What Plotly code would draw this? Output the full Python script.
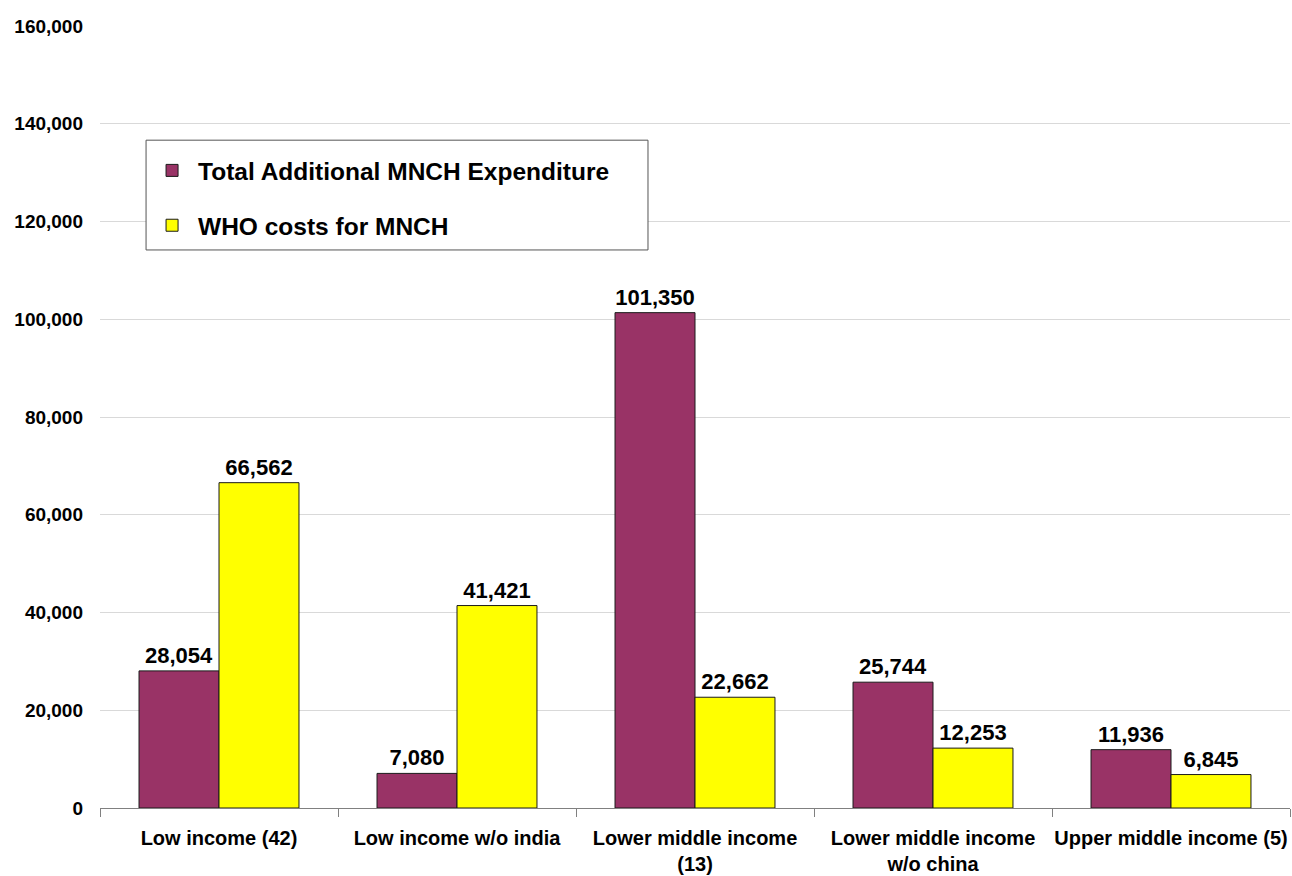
import plotly.graph_objects as go

categories = [
    "Low income (42)",
    "Low income w/o india",
    "Lower middle income<br>(13)",
    "Lower middle income<br>w/o china",
    "Upper middle income (5)",
]
total_additional = [28054, 7080, 101350, 25744, 11936]
who_costs = [66562, 41421, 22662, 12253, 6845]

FONT = "Arial, Liberation Sans, sans-serif"
label_font = dict(family=FONT, size=22, color="black", weight="bold")

fig = go.Figure()
fig.add_trace(go.Bar(
    x=categories, y=total_additional, name="Total Additional MNCH Expenditure",
    marker=dict(color="#993366", line=dict(color="#1a1a1a", width=1)),
    texttemplate="%{y:,}", textposition="outside", textfont=label_font,
    cliponaxis=False, legendgroup="a",
))
fig.add_trace(go.Bar(
    x=categories, y=who_costs, name="WHO costs for MNCH",
    marker=dict(color="#FFFF00", line=dict(color="#1a1a1a", width=1)),
    texttemplate="%{y:,}", textposition="outside", textfont=label_font,
    cliponaxis=False, legendgroup="b",
))

# framed white panel behind the legend entries
fig.add_shape(
    type="rect", xref="paper", yref="paper",
    x0=0.0387, x1=0.4605, y0=0.7136, y1=0.854,
    fillcolor="white", line=dict(color="#555555", width=1), layer="above",
)

fig.update_layout(
    width=1292, height=876,
    margin=dict(l=100, r=2, t=26, b=68, autoexpand=False),
    paper_bgcolor="white", plot_bgcolor="white",
    barmode="group", bargap=0.328, bargroupgap=0,
    font=dict(family=FONT, color="black"),
    showlegend=True,
    legend=dict(
        x=0.0387, y=0.854, xanchor="left", yanchor="top",
        bgcolor="rgba(0,0,0,0)", borderwidth=0,
        font=dict(family=FONT, size=24.5, color="black", weight="bold"),
        title=dict(text="&nbsp;", font=dict(size=6)),
        traceorder="grouped", tracegroupgap=20, itemwidth=42,
    ),
    xaxis=dict(
        showline=True, linecolor="#808080", linewidth=1,
        ticks="outside", tickson="boundaries", ticklen=8, tickcolor="#808080",
        tickangle=0, automargin=False, ticklabelstandoff=12,
        tickfont=dict(family=FONT, size=20, color="black", weight="bold"),
        showgrid=False,
    ),
    yaxis=dict(
        range=[0, 160000], dtick=20000, tickformat=",",
        showgrid=True, gridcolor="#d9d9d9", gridwidth=1,
        zeroline=False, showline=False, automargin=False,
        ticklabelstandoff=16,
        tickfont=dict(family=FONT, size=19, color="black", weight="bold"),
    ),
)

fig.write_html("out.html")
